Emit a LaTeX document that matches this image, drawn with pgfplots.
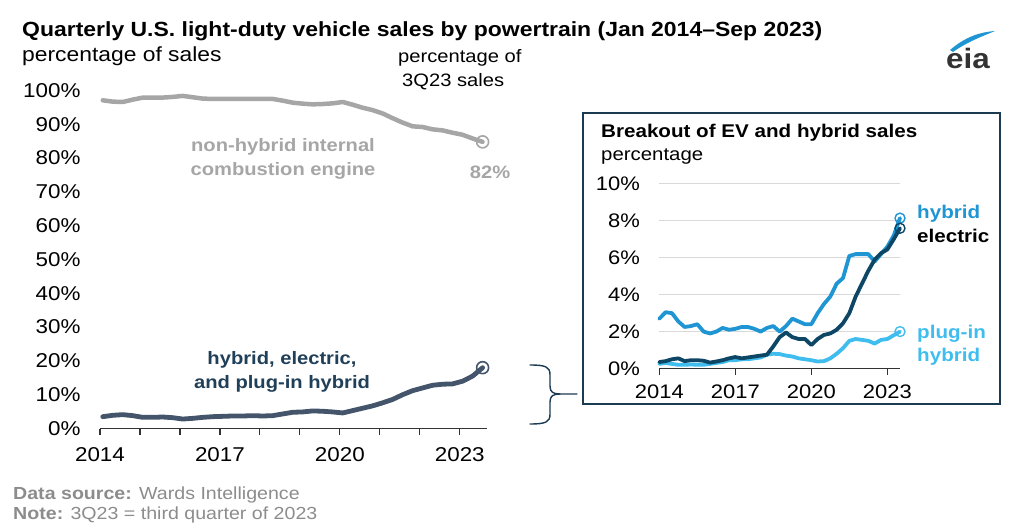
\documentclass[border=0pt]{standalone}
\usepackage{fontspec}
\setmainfont{Liberation Sans}[FakeStretch=1.12]
\usepackage{pgfplots}
\usepackage{pgfplotstable}
\pgfplotsset{compat=1.18}

\definecolor{icegray}{HTML}{A6A6A6}
\definecolor{combo}{HTML}{44546A}
\definecolor{combotxt}{HTML}{203F58}
\definecolor{hyb}{HTML}{1F95D3}
\definecolor{elec}{HTML}{0E4766}
\definecolor{phev}{HTML}{3FBDEF}
\definecolor{boxc}{HTML}{1B3B52}
\definecolor{foot}{HTML}{8C8C8C}
\definecolor{gridc}{HTML}{D9D9D9}

\pgfplotstableread{
x ice combo
2014.00 97.1 3.5
2014.25 96.7 3.9
2014.50 96.6 4.1
2014.75 97.3 3.8
2015.00 97.9 3.3
2015.25 97.9 3.3
2015.50 97.9 3.4
2015.75 98.1 3.2
2016.00 98.4 2.8
2016.25 98.0 3.0
2016.50 97.6 3.3
2016.75 97.5 3.5
2017.00 97.5 3.6
2017.25 97.5 3.7
2017.50 97.5 3.7
2017.75 97.5 3.8
2018.00 97.5 3.7
2018.25 97.5 3.8
2018.50 97.0 4.3
2018.75 96.4 4.8
2019.00 96.1 4.9
2019.25 95.9 5.2
2019.50 96.0 5.1
2019.75 96.2 4.9
2020.00 96.6 4.6
2020.25 95.8 5.3
2020.50 94.9 6.0
2020.75 94.2 6.7
2021.00 93.2 7.6
2021.25 91.8 8.6
2021.50 90.5 10.0
2021.75 89.4 11.2
2022.00 89.2 12.0
2022.25 88.5 12.8
2022.50 88.2 13.1
2022.75 87.5 13.2
2023.00 86.9 14.0
2023.25 85.8 15.5
2023.50 84.8 18.0
}\maintable

\pgfplotstableread{
x hyb elec phev
2014.00 2.70 0.35 0.25
2014.25 3.05 0.40 0.30
2014.50 3.00 0.50 0.25
2014.75 2.55 0.55 0.20
2015.00 2.25 0.40 0.20
2015.25 2.30 0.45 0.22
2015.50 2.40 0.45 0.20
2015.75 2.00 0.42 0.20
2016.00 1.90 0.32 0.25
2016.25 2.00 0.38 0.30
2016.50 2.20 0.45 0.35
2016.75 2.10 0.55 0.45
2017.00 2.15 0.62 0.45
2017.25 2.25 0.55 0.50
2017.50 2.25 0.60 0.50
2017.75 2.15 0.65 0.55
2018.00 2.00 0.70 0.60
2018.25 2.20 0.75 0.75
2018.50 2.30 1.20 0.80
2018.75 2.00 1.70 0.78
2019.00 2.30 1.95 0.70
2019.25 2.70 1.70 0.65
2019.50 2.55 1.60 0.55
2019.75 2.40 1.60 0.50
2020.00 2.40 1.27 0.45
2020.25 3.00 1.60 0.38
2020.50 3.50 1.82 0.40
2020.75 3.90 1.90 0.55
2021.00 4.60 2.10 0.80
2021.25 4.90 2.45 1.10
2021.50 6.10 3.00 1.50
2021.75 6.20 3.90 1.60
2022.00 6.20 4.60 1.55
2022.25 6.20 5.30 1.50
2022.50 5.80 5.90 1.35
2022.75 6.20 6.25 1.55
2023.00 6.60 6.45 1.60
2023.25 7.20 7.00 1.80
2023.50 8.15 7.60 2.00
}\insettable

\begin{document}
\begin{tikzpicture}
\useasboundingbox (0,0) rectangle (1024pt,522pt);

% ---------------- main axis ----------------
\begin{axis}[
  at={(100pt,93.5pt)}, anchor=south west,
  scale only axis, width=387pt, height=338pt,
  xmin=2014, xmax=2023.68, ymin=0, ymax=100,
  clip=false,
  axis x line*=bottom, axis y line*=left,
  x axis line style={-, black!80, line width=1.2pt},
  y axis line style={draw=none},
  ytick style={draw=none},
  xtick={2014,...,2023},
  xticklabels={2014,,,2017,,,2020,,,2023},
  xtick style={black!80, line width=1.2pt},
  tick align=outside, major tick length=6pt,
  ytick={0,10,...,100},
  yticklabels={0\%,10\%,20\%,30\%,40\%,50\%,60\%,70\%,80\%,90\%,100\%},
  tick label style={font=\fontsize{20}{24}\selectfont, text=black},
  yticklabel style={xshift=-10pt},
  xticklabel style={yshift=-10pt},
]
\addplot[icegray, line width=4.5pt, line join=round, line cap=round,
  mark=o, mark indices={39}, mark size=6pt,
  mark options={line width=1.6pt, fill=none}]
  table[x expr=\thisrow{x}+0.07, y=ice]{\maintable};
\addplot[combo, line width=4.8pt, line join=round, line cap=round,
  mark=o, mark indices={39}, mark size=6pt,
  mark options={line width=1.6pt, fill=none}]
  table[x expr=\thisrow{x}+0.07, y=combo]{\maintable};
\end{axis}

% ---------------- inset box ----------------
\draw[boxc, line width=2.5pt] (583pt,118pt) rectangle (1000pt,409pt);

\begin{axis}[
  at={(659.3pt,153.5pt)}, anchor=south west,
  scale only axis, width=240.7pt, height=184.5pt,
  xmin=2014, xmax=2023.5, ymin=0, ymax=10,
  clip=false,
  axis x line*=bottom, axis y line*=left,
  x axis line style={-, black!80, line width=1.2pt},
  y axis line style={draw=none},
  ytick style={draw=none},
  ymajorgrids, grid style={gridc, line width=1pt},
  xtick={2014,2017,2020,2023},
  xticklabels={2014,2017,2020,2023},
  xtick style={black!80, line width=1.2pt},
  tick align=outside, major tick length=6pt,
  ytick={0,2,...,10},
  yticklabels={0\%,2\%,4\%,6\%,8\%,10\%},
  tick label style={font=\fontsize{19.6}{23}\selectfont, text=black},
  yticklabel style={xshift=-10pt},
  xticklabel style={yshift=-7pt},
]
\addplot[phev, line width=3.8pt, line join=round, line cap=round,
  mark=o, mark indices={39}, mark size=5pt,
  mark options={line width=1.4pt, fill=none}]
  table[x=x, y=phev]{\insettable};
\addplot[hyb, line width=3.8pt, line join=round, line cap=round,
  mark=o, mark indices={39}, mark size=5pt,
  mark options={line width=1.4pt, fill=none}]
  table[x=x, y=hyb]{\insettable};
\addplot[elec, line width=3.8pt, line join=round, line cap=round,
  mark=o, mark indices={39}, mark size=5pt,
  mark options={line width=1.4pt, fill=none}]
  table[x=x, y=elec]{\insettable};
\end{axis}

% ---------------- text and decorations (y down, px units) ----------------
\begin{scope}[x=1pt, y=-1pt, shift={(0pt,522pt)}]
  \node[anchor=base west, inner sep=0pt, font=\fontsize{20.5}{24}\selectfont\bfseries] at (22,37)
    {Quarterly U.S. light-duty vehicle sales by powertrain (Jan 2014–Sep 2023)};
  \node[anchor=base west, inner sep=0pt, font=\fontsize{20.4}{24}\selectfont] at (22,62)
    {percentage of sales};
  \node[anchor=base west, inner sep=0pt, font=\fontsize{18}{22}\selectfont] at (398,63)
    {percentage of};
  \node[anchor=base west, inner sep=0pt, font=\fontsize{18}{22}\selectfont] at (402,87)
    {3Q23 sales};

  \node[align=center, text=icegray, inner sep=0pt, anchor=base,
        font=\fontsize{18}{24}\selectfont\bfseries] at (283,176)
    {non-hybrid internal\\ combustion engine};
  \node[text=icegray, inner sep=0pt, anchor=base,
        font=\fontsize{18}{22}\selectfont\bfseries] at (490,179)
    {82\%};

  \node[align=center, text=combotxt, inner sep=0pt, anchor=base,
        font=\fontsize{18}{24}\selectfont\bfseries] at (282,389)
    {hybrid, electric,\\ and plug-in hybrid};

  % brace
  \draw[boxc, line width=1.4pt, line cap=round]
    (530,365) .. controls (546,365) and (550,367) .. (550,375)
    -- (550,386) .. controls (550,392) and (553,394) .. (560,394) -- (577,394);
  \draw[boxc, line width=1.4pt, line cap=round]
    (530,424) .. controls (546,424) and (550,422) .. (550,414)
    -- (550,402) .. controls (550,396) and (553,394) .. (560,394);

  % inset texts
  \node[anchor=base west, inner sep=0pt, font=\fontsize{18.4}{22}\selectfont\bfseries] at (601,138)
    {Breakout of EV and hybrid sales};
  \node[anchor=base west, inner sep=0pt, font=\fontsize{18.2}{22}\selectfont] at (601,161)
    {percentage};
  \node[anchor=base west, inner sep=0pt, text=hyb, font=\fontsize{18.4}{22}\selectfont\bfseries] at (917,219)
    {hybrid};
  \node[anchor=base west, inner sep=0pt, text=black, font=\fontsize{18.4}{22}\selectfont\bfseries] at (917,243)
    {electric};
  \node[anchor=base west, inner sep=0pt, text=phev, font=\fontsize{18.4}{22}\selectfont\bfseries] at (917,339)
    {plug-in};
  \node[anchor=base west, inner sep=0pt, text=phev, font=\fontsize{18.4}{22}\selectfont\bfseries] at (917,362)
    {hybrid};

  % footer
  \node[anchor=base west, inner sep=0pt, text=foot, font=\fontsize{17.5}{21}\selectfont] at (13,499)
    {\textbf{Data source:} Wards Intelligence};
  \node[anchor=base west, inner sep=0pt, text=foot, font=\fontsize{17.5}{21}\selectfont] at (13,519)
    {\textbf{Note:} 3Q23 = third quarter of 2023};

  % eia logo
  \node[anchor=base west, inner sep=0pt, text=black!80, font=\fontsize{28}{30}\selectfont\bfseries] at (946,69)
    {eia};
  \fill[hyb] (950,50) .. controls (965,37) and (980,32) .. (995,31)
    .. controls (983,36) and (967,42) .. (953,52) -- cycle;
\end{scope}
\end{tikzpicture}
\end{document}
